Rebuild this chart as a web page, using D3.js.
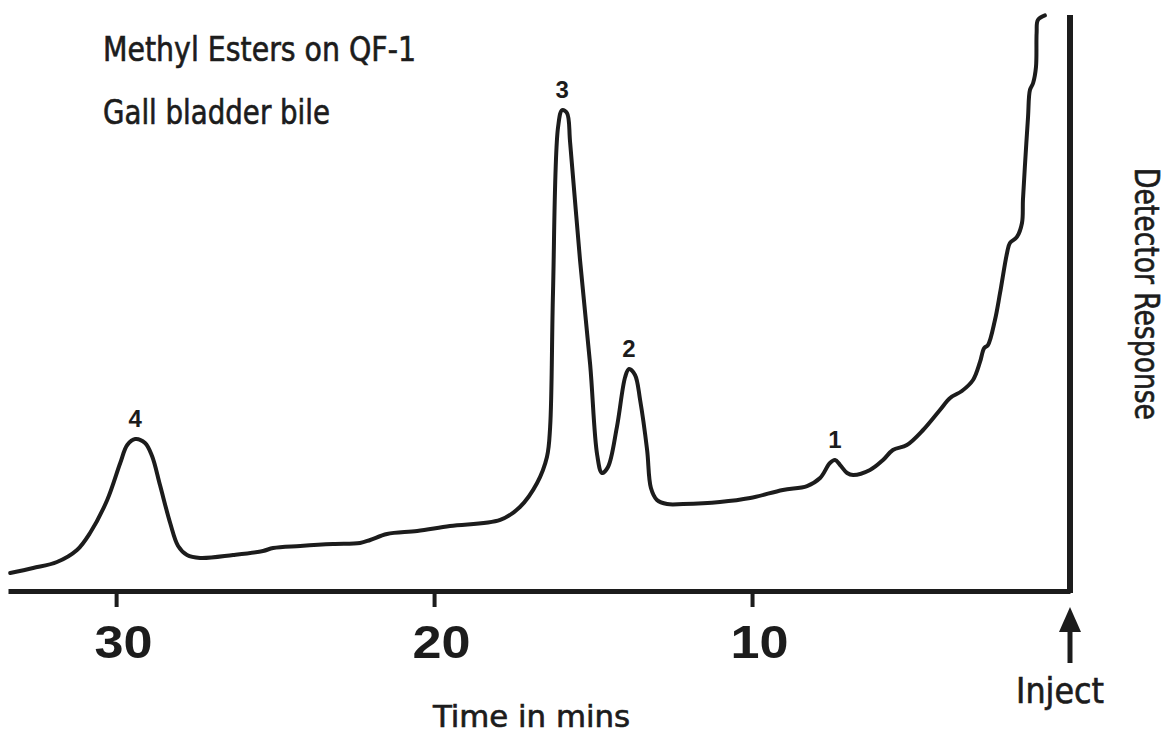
<!DOCTYPE html>
<html><head><meta charset="utf-8">
<script src="https://cdn.jsdelivr.net/npm/d3@7"></script>
<style>html,body{margin:0;padding:0;background:#fff;} svg{display:block}</style>
</head><body>
<svg id="chart" width="1167" height="736"></svg>
<script>
// ---- data ----
const times = [33.33,32.61,31.86,31.23,30.82,30.28,29.87,29.65,29.40,29.09,28.87,28.62,28.30,28.05,27.77,27.36,
  26.32,25.38,25.06,24.21,23.18,22.33,22.01,21.48,20.53,19.50,17.92,17.30,16.76,16.45,16.35,16.26,16.10,15.97,
  15.82,15.72,15.41,15.09,14.87,14.72,14.53,14.25,13.99,13.87,13.68,13.52,13.30,13.18,12.99,12.67,12.17,11.01,
  10.06,9.03,8.27,7.86,7.55,7.39,7.23,7.01,6.82,6.29,5.88,5.57,5.13,4.62,4.09,3.77,3.40,3.05,2.83,2.70,2.58,
  2.36,2.20,1.98,1.89,1.67,1.51,1.48,1.42,1.32,1.26,1.16,1.07,1.05,1.01,0.79];
const response = [3.13,4.00,5.04,7.13,10.09,15.83,22.26,25.39,26.43,25.74,23.48,18.43,11.83,7.83,6.26,5.74,
  6.26,6.96,7.48,7.83,8.17,8.35,8.87,9.91,10.43,11.30,12.35,14.61,18.78,23.30,28.52,51.83,80.70,83.65,
  83.13,77.91,57.57,39.30,23.65,20.52,21.57,28.52,37.22,38.61,37.57,33.22,24.52,17.91,15.83,15.13,15.13,15.48,
  16.17,17.57,18.26,19.65,22.26,22.78,21.91,20.52,20.17,21.04,22.78,24.52,25.39,28.00,31.48,33.57,34.78,36.70,39.83,42.26,42.78,
  47.13,51.83,58.78,60.52,61.57,64.00,68.00,73.74,82.43,87.13,88.35,91.13,97.04,99.30,100.1];
const tickValues = [30, 20, 10];
const peakLabels = ["4", "3", "2", "1"];
const peakTimes = [29.40, 15.97, 13.87, 7.39];
const peakResponse = [26.43, 83.65, 38.61, 22.78];
const titleLines = ["Methyl Esters on QF-1", "Gall bladder bile"];
const xTitle = "Time in mins";
const yTitle = "Detector Response";
const injectLabel = "Inject";

// ---- drawing ----
const svg = d3.select("#chart");
const ink = "#1c1c1c";
const condensed = '"Liberation Sans Narrow","DejaVu Sans Condensed","Roboto Condensed",sans-serif';
const x = d3.scaleLinear().domain([33.4, 0]).range([8, 1070]);
const y = d3.scaleLinear().domain([0, 100]).range([591, 16]);

// trace
const line = d3.line()
  .x((d, i) => x(times[i]))
  .y((d, i) => y(response[i]))
  .curve(d3.curveCatmullRom.alpha(0.5));
svg.append("path").datum(times).attr("d", line)
  .attr("fill", "none").attr("stroke", ink).attr("stroke-width", 4)
  .attr("stroke-linejoin", "round").attr("stroke-linecap", "round");

// x axis
const axis = d3.axisBottom(x).tickValues(tickValues).tickSize(16).tickSizeOuter(0)
  .tickPadding(18).tickFormat(d3.format("d"));
const g = svg.append("g").attr("transform", `translate(0,${y(0)})`).call(axis);
g.select(".domain").attr("stroke", ink).attr("stroke-width", 5);
g.selectAll(".tick line").attr("stroke", ink).attr("stroke-width", 4);
g.selectAll(".tick text").attr("fill", ink)
  .attr("font-family", '"Liberation Sans",Arial,sans-serif')
  .attr("font-weight", "bold").attr("font-size", 46)
  .attr("dx", 7)
  .attr("textLength", 58).attr("lengthAdjust", "spacingAndGlyphs");

// vertical detector line at injection (t = 0)
svg.append("line")
  .attr("x1", x(0)).attr("x2", x(0))
  .attr("y1", y(0) + 2).attr("y2", y(100) - 1)
  .attr("stroke", ink).attr("stroke-width", 6);

// inject arrow
const ax = x(0), a0 = y(0);
svg.append("path")
  .attr("d", `M${ax},${a0 + 16} L${ax + 11},${a0 + 41} L${ax - 11},${a0 + 41} Z`)
  .attr("fill", ink);
svg.append("line")
  .attr("x1", ax).attr("x2", ax).attr("y1", a0 + 38).attr("y2", a0 + 72)
  .attr("stroke", ink).attr("stroke-width", 5);

// peak labels
svg.selectAll("text.peak").data(peakLabels).enter().append("text")
  .attr("class", "peak")
  .attr("x", (d, i) => x(peakTimes[i]))
  .attr("y", (d, i) => y(peakResponse[i]) - 12)
  .attr("text-anchor", "middle")
  .attr("font-family", '"Liberation Sans",Arial,sans-serif')
  .attr("font-weight", "bold").attr("font-size", 24).attr("fill", ink)
  .text(d => d);

// texts
const txt = (s, px, py, len, size) => svg.append("text")
  .attr("x", px).attr("y", py).attr("font-family", condensed)
  .attr("font-size", size).attr("fill", ink)
  .attr("stroke", ink).attr("stroke-width", 0.6)
  .attr("textLength", len).attr("lengthAdjust", "spacingAndGlyphs").text(s);

txt(titleLines[0], 103, 61, 313, 33);
txt(titleLines[1], 103, 124, 227, 33);
txt(xTitle, 433, 727, 197, 31);
txt(injectLabel, 1016, 703, 88, 35);

svg.append("text")
  .attr("transform", "translate(1135,168) rotate(90)")
  .attr("font-family", condensed).attr("font-size", 33).attr("fill", ink)
  .attr("stroke", ink).attr("stroke-width", 0.6)
  .attr("textLength", 252).attr("lengthAdjust", "spacingAndGlyphs")
  .text(yTitle);
</script>
</body></html>
